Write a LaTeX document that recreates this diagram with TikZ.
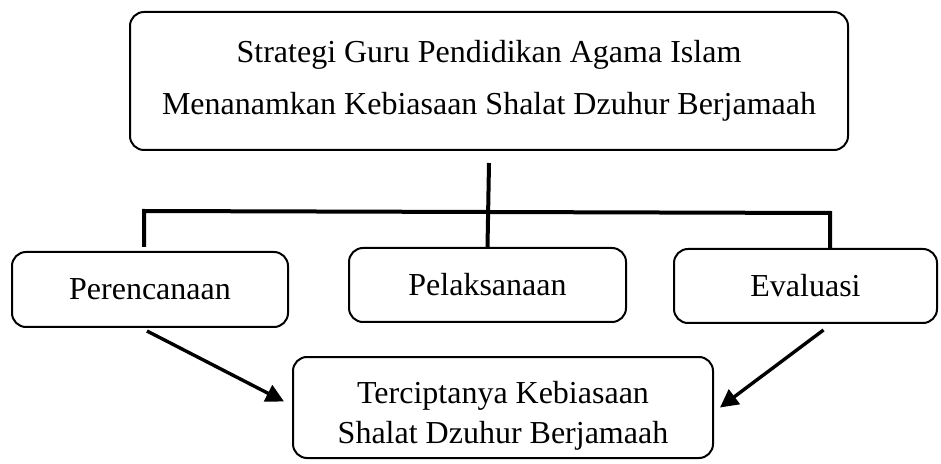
\documentclass[tikz,border=0pt]{standalone}
\usepackage{fontspec}
\setmainfont{Liberation Serif}
\usetikzlibrary{arrows.meta}

\begin{document}
\begin{tikzpicture}[x=0.5pt,y=-0.5pt,
	box/.style={draw,line width=1pt,rounded corners=7pt,align=center,inner sep=0pt,font=\fontsize{16}{20}\selectfont},
	link/.style={line width=2pt},
	arrow/.style={line width=1.7pt,-{Triangle[length=9pt,width=9pt]}}]
	\useasboundingbox (0,0) rectangle (941,464);
	
	\node[box,minimum width=359pt,minimum height=69pt] (strategi) at (489,81) {Strategi Guru Pendidikan Agama Islam\\[6pt]Menanamkan Kebiasaan Shalat Dzuhur Berjamaah};
	
	\node[box,minimum width=138pt,minimum height=37.5pt] (perencanaan) at (150,289.5) {Perencanaan};
	\node[box,minimum width=138.5pt,minimum height=37pt] (pelaksanaan) at (487.5,285) {Pelaksanaan};
	\node[box,minimum width=131.5pt,minimum height=37pt] (evaluasi) at (805.5,286) {Evaluasi};
	
	\node[box,minimum width=210pt,minimum height=50.5pt] (hasil) at (503,407.5) {\rule{0pt}{19pt}Terciptanya Kebiasaan\\Shalat Dzuhur Berjamaah};
	
	\coordinate (kiri) at (144,211);
	\coordinate (kanan) at (830,213);
	
	\draw[link] ([yshift=-6pt]strategi.south) -- (pelaksanaan.north);
	\draw[link] ([yshift=2pt]kiri |- perencanaan.north) -- (kiri) -- (kanan) -- (kanan |- evaluasi.north);
	
	\draw[arrow] ([xshift=-1.5pt,yshift=-1.5pt]perencanaan.south) -- ([xshift=-4pt,yshift=3pt]hasil.west);
	\draw[arrow] ([xshift=9pt,yshift=-3pt]evaluasi.south) -- ([xshift=3pt]hasil.east);
	
\end{tikzpicture}
\end{document}
